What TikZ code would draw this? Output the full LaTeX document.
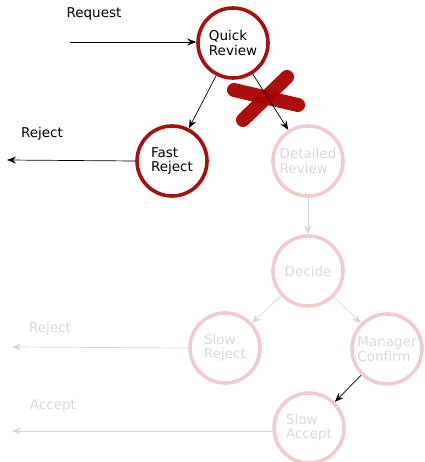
\documentclass[tikz,border=0pt]{standalone}
\usepackage{fontspec}
\setmainfont{DejaVu Sans}
\usetikzlibrary{arrows.meta}
\definecolor{activered}{HTML}{A80F0F}
\definecolor{fadedred}{HTML}{F0CCCC}
\definecolor{fadedtext}{HTML}{D8D8D8}
\definecolor{fadedline}{HTML}{D6D6D6}
\definecolor{crossred}{HTML}{A80000}
\tikzset{
  state/.style={circle, draw=activered, line width=3.6pt, minimum size=70pt, inner sep=0pt,
    align=left, font=\fontsize{13.5}{14.5}\selectfont, text=black},
  fstate/.style={state, draw=fadedred, text=fadedtext},
  arr/.style={-{Stealth[length=9pt,width=7pt,inset=3pt]}, line width=0.7pt, draw=black},
  farr/.style={arr, draw=fadedline},
  lbl/.style={font=\fontsize{13.5}{14.5}\selectfont, text=black, inner sep=0pt},
  flbl/.style={lbl, text=fadedtext},
  crossstroke/.style={line width=14pt, draw=crossred, line cap=round, opacity=0.95}
}
\begin{document}
\begin{tikzpicture}[x=1pt,y=1pt]
\useasboundingbox (0,0) rectangle (424,-462);
% nodes
\node[state] (qr) at (233,-43) {Quick\\Review};
\node[state] (fr) at (172,-161) {Fast\\Reject};
\node[fstate] (dr) at (308,-161) {Detailed\\Review};
\node[fstate] (dc) at (308,-271) {Decide};
\node[fstate] (sr) at (225,-348) {Slow\\Reject};
\node[fstate] (mc) at (387,-349) {Manager\\Confirm};
\node[fstate] (sa) at (309,-428) {Slow\\Accept};
% free ends
\coordinate (reqstart) at (70,-42);
\coordinate (frend) at (7,-160);
\coordinate (srend) at (12,-347);
\coordinate (saend) at (12,-431);
% labels
\node[lbl] (lreq) at (94,-14) {Request};
\node[lbl] (lrej) at (42,-134) {Reject};
\node[flbl] (lsrej) at (50,-329) {Reject};
\node[flbl] (lacc) at (53,-406) {Accept};
% faded connectors
\draw[farr] (dr) -- (dc);
\draw[farr] (dc) -- (sr);
\draw[farr] (dc) -- (mc);
\draw[farr] (sr.west) -- (srend);
\draw[farr] (sa.west |- saend) -- (saend);
% active connectors
\draw[arr] (reqstart) -- (qr.west |- reqstart);
\draw[arr] (qr) -- (fr);
\draw[arr] (fr.west) -- (frend);
\draw[arr] (mc) -- (sa);
% cross
\coordinate (xa1) at (234,-90);
\coordinate (xa2) at (298,-105);
\coordinate (xb1) at (287,-77);
\coordinate (xb2) at (243,-120);
\draw[crossstroke] (xa1) -- (xa2);
\draw[crossstroke] (xb1) -- (xb2);
\draw[arr] (qr) -- (dr);
\end{tikzpicture}
\end{document}
